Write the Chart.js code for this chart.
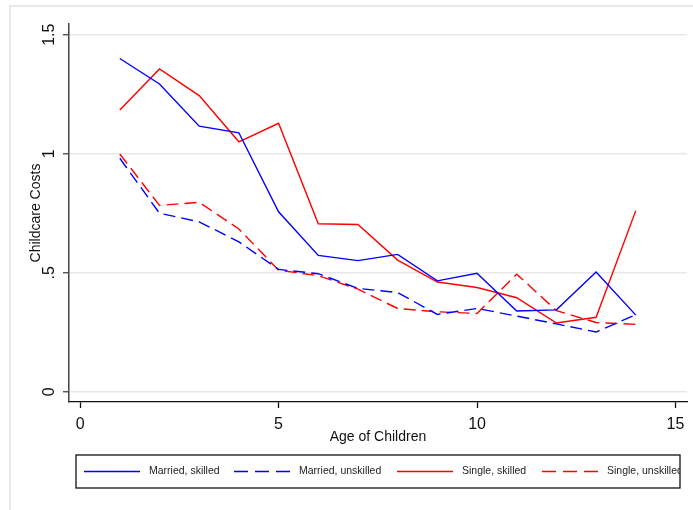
<!DOCTYPE html>
<html lang="en">
<head>
  <meta charset="UTF-8" />
  <title>Childcare Costs by Age of Children</title>
  <script src="https://cdn.jsdelivr.net/npm/chart.js"></script>
  <style>
    body { margin: 0; background: #fff; }
    canvas { display: block; }
  </style>
</head>
<body>
<canvas id="chart" width="693" height="510"></canvas>

<script>
  // ages 1..14 and the four household types
  const ages = [1, 2, 3, 4, 5, 6, 7, 8, 9, 10, 11, 12, 13, 14];
  const marriedSkilled   = [1.400, 1.293, 1.116, 1.088, 0.756, 0.573, 0.551, 0.577, 0.466, 0.498, 0.339, 0.344, 0.503, 0.322];
  const marriedUnskilled = [0.981, 0.750, 0.714, 0.630, 0.514, 0.496, 0.434, 0.417, 0.325, 0.350, 0.318, 0.285, 0.251, 0.324];
  const singleSkilled    = [1.184, 1.356, 1.244, 1.050, 1.128, 0.706, 0.703, 0.553, 0.461, 0.438, 0.395, 0.289, 0.313, 0.761];
  const singleUnskilled  = [0.999, 0.783, 0.796, 0.684, 0.511, 0.488, 0.431, 0.350, 0.336, 0.329, 0.494, 0.341, 0.291, 0.283];

  const xTicks = [0, 5, 10, 15];
  const yTicks = [0, 0.5, 1, 1.5];
  const yTickLabels = ['0', '.5', '1', '1.5'];

  const FONT = "'Liberation Sans', Arial, sans-serif";
  // legend frame and where each key starts (Stata-style boxed legend)
  const LEGEND_BOX = { left: 76, top: 455, right: 680, bottom: 488 };
  const LEGEND_KEY_X = [84, 234, 397, 542];
  const LEGEND_KEY_LEN = 56;

  function series(label, values, color, dashed) {
    return {
      label,
      data: ages.map((a, i) => ({ x: a, y: values[i] })),
      borderColor: color,
      backgroundColor: color,
      borderWidth: 1.4,
      borderDash: dashed ? [12, 6] : [],
      pointRadius: 0,
      tension: 0,
      fill: false
    };
  }

  // white page with the faint frame line on the top and left
  const framePlugin = {
    id: 'frame',
    beforeDraw(chart) {
      const ctx = chart.ctx;
      ctx.save();
      ctx.fillStyle = '#fff';
      ctx.fillRect(0, 0, chart.width, chart.height);
      ctx.strokeStyle = '#e9e9e9';
      ctx.lineWidth = 2;
      ctx.beginPath();
      ctx.moveTo(10, chart.height);
      ctx.lineTo(10, 6);
      ctx.lineTo(chart.width, 6);
      ctx.stroke();
      ctx.restore();
    }
  };

  // boxed legend in one row under the x axis title
  const boxedLegend = {
    id: 'boxedLegend',
    afterDraw(chart) {
      const ctx = chart.ctx;
      const b = LEGEND_BOX;
      const cy = (b.top + b.bottom) / 2;
      ctx.save();
      ctx.strokeStyle = '#111';
      ctx.lineWidth = 1.3;
      ctx.setLineDash([]);
      ctx.strokeRect(b.left, b.top, b.right - b.left, b.bottom - b.top);

      ctx.beginPath();
      ctx.rect(b.left, b.top, b.right - b.left, b.bottom - b.top);
      ctx.clip();
      ctx.font = '10.5px ' + FONT;
      ctx.textBaseline = 'middle';
      ctx.textAlign = 'left';
      chart.data.datasets.forEach((ds, i) => {
        const x0 = LEGEND_KEY_X[i];
        ctx.strokeStyle = ds.borderColor;
        ctx.lineWidth = ds.borderWidth;
        // three full dashes across the key, as in the original
        ctx.setLineDash(ds.borderDash.length ? [14, 7] : []);
        ctx.beginPath();
        ctx.moveTo(x0, cy);
        ctx.lineTo(x0 + LEGEND_KEY_LEN, cy);
        ctx.stroke();
        ctx.fillStyle = '#222';
        ctx.fillText(ds.label, x0 + LEGEND_KEY_LEN + 9, cy);
      });
      ctx.restore();
    }
  };

  new Chart(document.getElementById('chart'), {
    type: 'line',
    data: {
      datasets: [
        series('Married, skilled', marriedSkilled, '#0000ff', false),
        series('Married, unskilled', marriedUnskilled, '#0000ff', true),
        series('Single, skilled', singleSkilled, '#ff0000', false),
        series('Single, unskilled', singleUnskilled, '#ff0000', true)
      ]
    },
    plugins: [framePlugin, boxedLegend],
    options: {
      responsive: false,
      animation: false,
      layout: { padding: { left: 10, top: 24, right: 6, bottom: 60 } },
      plugins: {
        legend: { display: false },
        tooltip: { enabled: false }
      },
      scales: {
        x: {
          type: 'linear',
          min: -0.28,
          max: 15.29,
          afterBuildTicks: s => { s.ticks = xTicks.map(v => ({ value: v })); },
          afterFit: s => { s.height = 48; },
          grid: { drawOnChartArea: false, drawTicks: true, tickLength: 6, tickColor: '#111', tickWidth: 1.3 },
          border: { display: true, color: '#111', width: 1.3 },
          ticks: { padding: 7, color: '#111', font: { family: FONT, size: 16 } },
          title: {
            display: true,
            text: 'Age of Children',
            color: '#111',
            font: { family: FONT, size: 14 },
            padding: { top: 0, bottom: 4 }
          }
        },
        y: {
          type: 'linear',
          min: -0.043,
          max: 1.545,
          afterBuildTicks: s => { s.ticks = yTicks.map(v => ({ value: v })); },
          afterFit: s => { s.width = 59; },
          grid: { color: '#e8e8e8', lineWidth: 1.5, tickLength: 6, tickColor: '#444', tickWidth: 1.3 },
          border: { display: true, color: '#444', width: 1.5 },
          ticks: {
            minRotation: 90,
            maxRotation: 90,
            crossAlign: 'center',
            padding: 2,
            color: '#111',
            font: { family: FONT, size: 16 },
            callback: v => yTickLabels[yTicks.indexOf(v)]
          },
          title: {
            display: true,
            text: 'Childcare Costs',
            color: '#111',
            font: { family: FONT, size: 14 },
            padding: { top: 18, bottom: 0 }
          }
        }
      }
    }
  });
</script>
</body>
</html>
